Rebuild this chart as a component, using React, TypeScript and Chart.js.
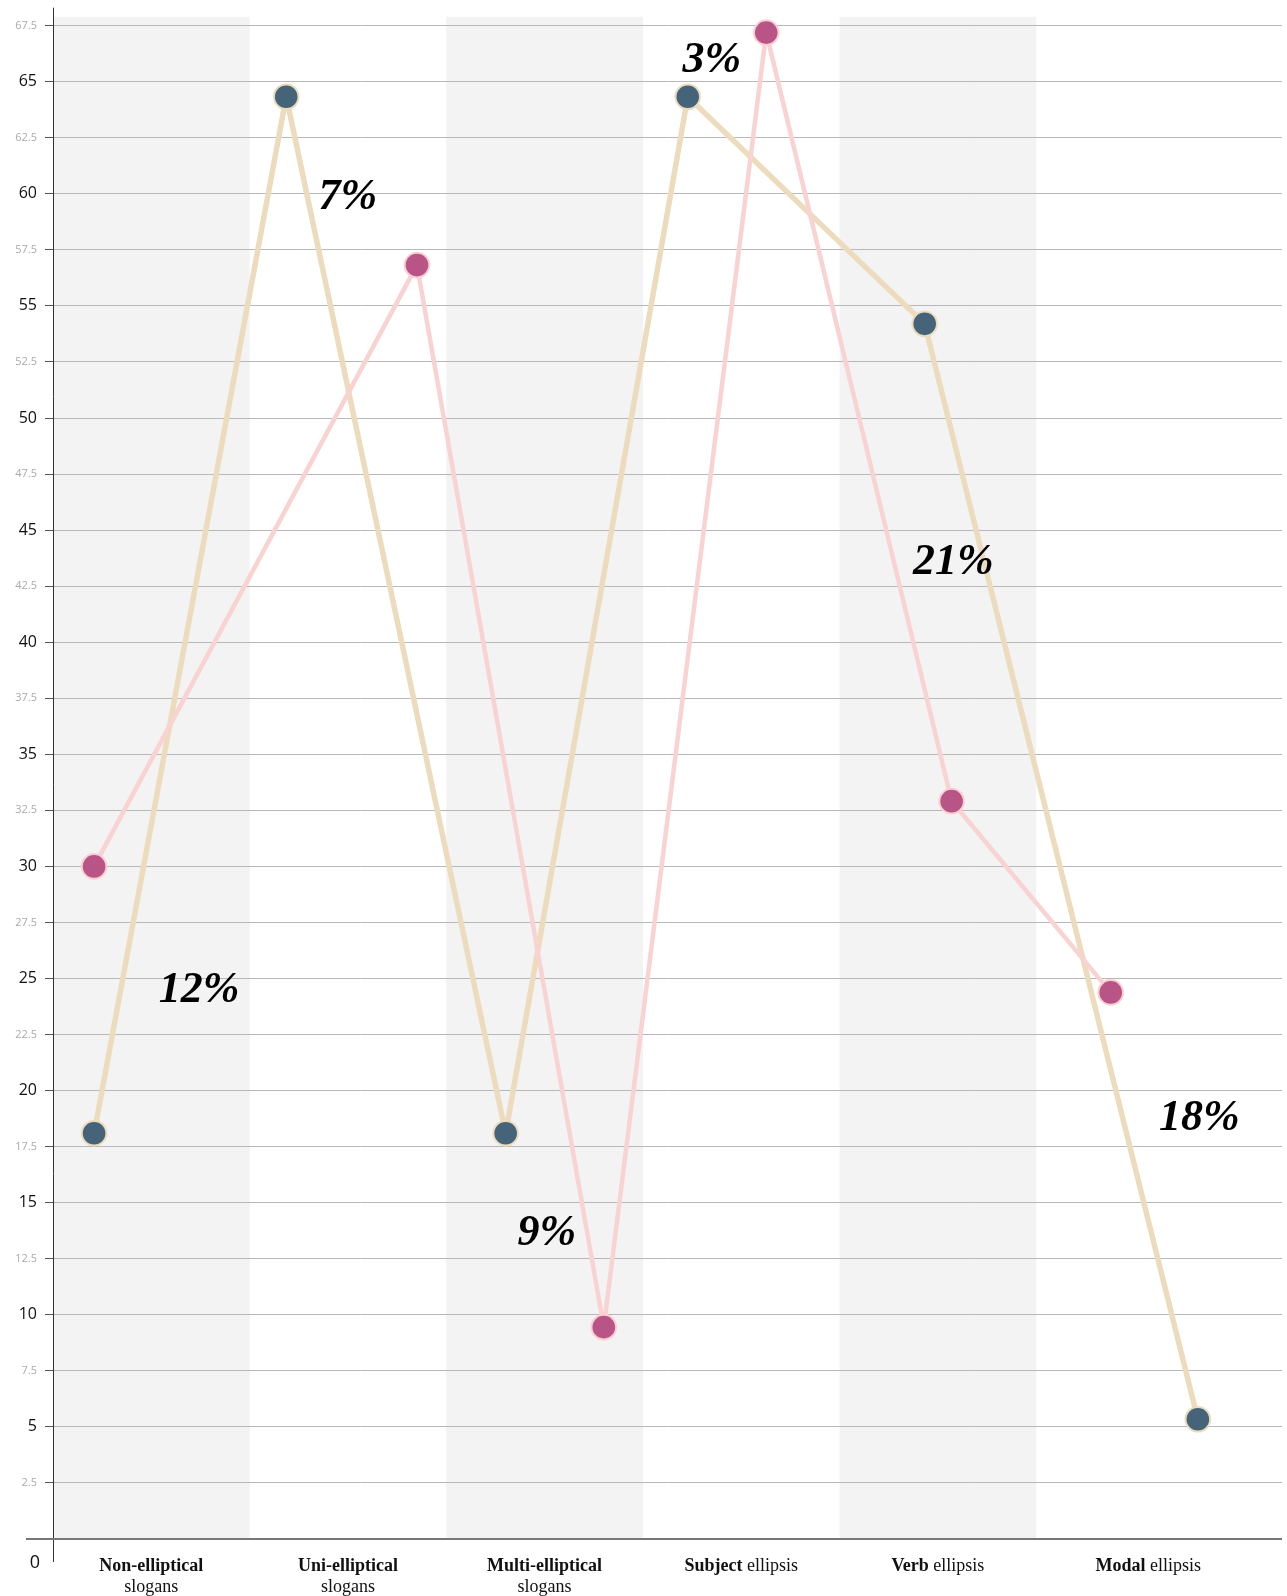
import React, { useEffect, useRef } from 'react';
import { Chart, registerables } from 'chart.js';

Chart.register(...registerables);

// ---- data ----
const categoryBold = ['Non-elliptical', 'Uni-elliptical', 'Multi-elliptical', 'Subject', 'Verb', 'Modal'];
const categoryRest = ['slogans', 'slogans', 'slogans', 'ellipsis', 'ellipsis', 'ellipsis'];
const categoryRestInline = [false, false, false, true, true, true];
const categoryLabelX = [0.5, 1.5, 2.5, 3.5, 4.5, 5.57];
const bandStarts = [0, 2, 4];

const tanX = [0.209, 1.186, 2.302, 3.228, 4.433, 5.822];
const tanY = [18.1, 64.33, 18.1, 64.33, 54.2, 5.34];
const pinkX = [0.209, 1.851, 2.801, 3.627, 4.57, 5.379];
const pinkY = [30, 56.82, 9.45, 67.19, 32.91, 24.38];

const annText = ['12%', '7%', '9%', '3%', '21%', '18%'];
const annX = [0.743, 1.499, 2.511, 3.351, 4.578, 5.83];
const annY = [23.95, 59.32, 13.11, 65.42, 43.04, 18.24];

const yTicks = [0, 2.5, 5, 7.5, 10, 12.5, 15, 17.5, 20, 22.5, 25, 27.5, 30, 32.5, 35, 37.5, 40, 42.5, 45, 47.5, 50, 52.5, 55, 57.5, 60, 62.5, 65, 67.5];
const yMax = 67.9;
const xMax = 6.25;

const SERIF = '"Liberation Serif", "Times New Roman", serif';
const SANS = '"Open Sans", "DejaVu Sans", sans-serif';

const decorPlugin = {
  id: 'decor',
  beforeDraw(chart: any) {
    const { ctx, chartArea } = chart;
    const xs = chart.scales.x;
    ctx.save();
    ctx.fillStyle = '#f3f3f3';
    bandStarts.forEach((b) => {
      const x0 = xs.getPixelForValue(b);
      const x1 = xs.getPixelForValue(b + 1);
      ctx.fillRect(x0, chartArea.top, x1 - x0, chartArea.bottom - chartArea.top);
    });
    ctx.restore();
  },
  afterDraw(chart: any) {
    const { ctx, chartArea } = chart;
    const xs = chart.scales.x;
    const ys = chart.scales.y;
    ctx.save();
    // y axis line
    ctx.strokeStyle = '#333';
    ctx.lineWidth = 1;
    ctx.beginPath();
    ctx.moveTo(chartArea.left + 0.5, chartArea.top - 9);
    ctx.lineTo(chartArea.left + 0.5, chartArea.bottom + 23);
    ctx.stroke();
    // x axis line
    const y0 = ys.getPixelForValue(0);
    ctx.strokeStyle = '#777';
    ctx.lineWidth = 2;
    ctx.beginPath();
    ctx.moveTo(26, y0);
    ctx.lineTo(chartArea.right, y0);
    ctx.stroke();
    // zero label
    ctx.fillStyle = '#111';
    ctx.font = `18px ${SANS}`;
    ctx.textAlign = 'center';
    ctx.textBaseline = 'alphabetic';
    ctx.fillText('0', 35, y0 + 29);
    // category labels
    categoryBold.forEach((bold, i) => {
      const cx = xs.getPixelForValue(categoryLabelX[i]);
      const base1 = y0 + 31.5;
      const base2 = y0 + 52.5;
      ctx.fillStyle = '#111';
      ctx.textAlign = 'left';
      const boldFont = `bold 18px ${SERIF}`;
      const regFont = `18px ${SERIF}`;
      if (categoryRestInline[i]) {
        ctx.font = boldFont;
        const wb = ctx.measureText(bold + ' ').width;
        ctx.font = regFont;
        const wr = ctx.measureText(categoryRest[i]).width;
        const start = cx - (wb + wr) / 2;
        ctx.font = boldFont;
        ctx.fillText(bold + ' ', start, base1);
        ctx.font = regFont;
        ctx.fillText(categoryRest[i], start + wb, base1);
      } else {
        ctx.textAlign = 'center';
        ctx.font = boldFont;
        ctx.fillText(bold, cx, base1);
        ctx.font = regFont;
        ctx.fillText(categoryRest[i], cx, base2);
      }
    });
    // percentage annotations
    ctx.fillStyle = '#000';
    ctx.font = `italic bold 44px ${SERIF}`;
    ctx.textAlign = 'center';
    ctx.textBaseline = 'alphabetic';
    annText.forEach((t, i) => {
      ctx.fillText(t, xs.getPixelForValue(annX[i]), ys.getPixelForValue(annY[i]));
    });
    ctx.restore();
  },
};

export default function App() {
  const ref = useRef<HTMLCanvasElement | null>(null);
  useEffect(() => {
    if (!ref.current) return;
    const chart = new Chart(ref.current, {
      type: 'line',
      data: {
        datasets: [
          {
            label: 'pink',
            data: pinkX.map((x, i) => ({ x, y: pinkY[i] })),
            borderColor: '#f9d2d2',
            borderWidth: 4.5,
            pointRadius: 12.3,
            pointBackgroundColor: '#b95487',
            pointBorderColor: '#f8cfd3',
            pointBorderWidth: 2,
            tension: 0,
            order: 0,
            clip: false,
          },
          {
            label: 'tan',
            data: tanX.map((x, i) => ({ x, y: tanY[i] })),
            borderColor: '#ecdcbd',
            borderWidth: 5.5,
            pointRadius: 12.3,
            pointBackgroundColor: '#456479',
            pointBorderColor: '#ecdcbd',
            pointBorderWidth: 2,
            tension: 0,
            order: 1,
            clip: false,
          },
        ],
      } as any,
      options: {
        animation: false,
        responsive: false,
        events: [],
        layout: { autoPadding: false, padding: { top: 16.7, right: 5, left: 0, bottom: 0 } },
        plugins: { legend: { display: false }, tooltip: { enabled: false } },
        scales: {
          x: {
            type: 'linear',
            min: 0,
            max: xMax,
            ticks: { display: false },
            grid: { display: false },
            border: { display: false },
            afterFit: (s: any) => {
              s.height = 57;
            },
          },
          y: {
            type: 'linear',
            min: 0,
            max: yMax,
            afterBuildTicks: (s: any) => {
              s.ticks = yTicks.map((v) => ({ value: v }));
            },
            afterFit: (s: any) => {
              s.width = 53;
            },
            border: { display: false },
            grid: {
              color: (c: any) => (c.tick && c.tick.value === 0 ? 'rgba(0,0,0,0)' : '#b8b8b8'),
              lineWidth: 1,
              tickLength: 8,
              tickColor: '#555',
              drawTicks: true,
            },
            ticks: {
              padding: 8,
              callback: (v: any) => (v === 0 ? '' : String(v)),
              font: (c: any) =>
                c.tick && c.tick.value % 5 === 0
                  ? { family: SANS, size: 16 }
                  : { family: SANS, size: 11 },
              color: (c: any) => (c.tick && c.tick.value % 5 === 0 ? '#111' : '#aaa'),
            },
          },
        },
      } as any,
      plugins: [decorPlugin],
    });
    return () => chart.destroy();
  }, []);
  return (
    <div style={{ position: 'absolute', left: 0, top: 0, width: 1287, height: 1596, background: '#fff' }}>
      <canvas ref={ref} width={1287} height={1596} style={{ width: 1287, height: 1596, display: 'block' }} />
    </div>
  );
}
